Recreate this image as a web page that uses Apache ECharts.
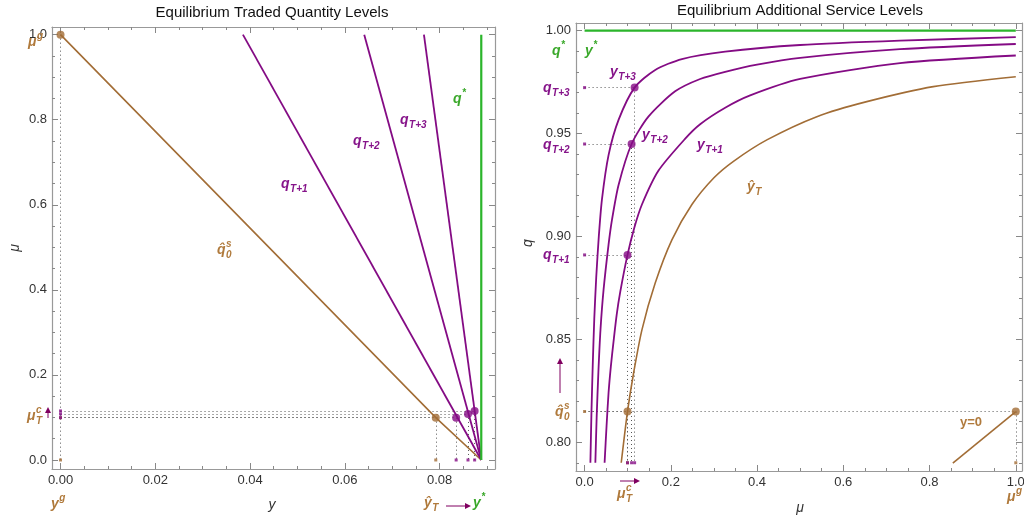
<!DOCTYPE html>
<html>
<head>
<meta charset="utf-8">
<script src="https://cdn.jsdelivr.net/npm/echarts@6/dist/echarts.min.js"></script>
<style>
  html, body { margin: 0; padding: 0; background: #fff; }
  #chart { width: 1024px; height: 520px; }
</style>
</head>
<body>
<div id="chart"></div>
<script>
// ---------- left panel: y (x axis) vs mu (y axis) ----------
var yStar = 0.0888;
var muG = 1.0;
var qHat0Line = [[0, 1.0], [0.0792, 0.0995], [0.0888, 0]];
var qT1Line = [[0.0385, 1.0], [0.0888, 0]];
var qT2Line = [[0.0641, 1.0], [0.0888, 0]];
var qT3Line = [[0.0767, 1.0], [0.0888, 0]];
var qStarLine = [[0.0888, 0], [0.0888, 1.0]];
// equilibrium points: q̂0, qT+1, qT+2, qT+3
var leftPts = [[0.0792, 0.0995], [0.0835, 0.0995], [0.0860, 0.1082], [0.0874, 0.1153]];

var leftXTicks = [0, 0.02, 0.04, 0.06, 0.08];
var leftYTicks = [0, 0.2, 0.4, 0.6, 0.8, 1.0];

// ---------- right panel: mu (x axis) vs q (y axis) ----------
var yT3 = [[0.0135, 0.790], [0.016, 0.815], [0.019, 0.838], [0.0225, 0.860], [0.027, 0.880], [0.033, 0.900],
  [0.0403, 0.918], [0.0556, 0.9395], [0.0788, 0.9566], [0.116, 0.9723], [0.1638, 0.9809], [0.2257, 0.9862],
  [0.326, 0.9898], [0.5, 0.9930], [0.7316, 0.9951], [1.0, 0.9968]];
var yT2 = [[0.025, 0.790], [0.028, 0.812], [0.032, 0.834], [0.037, 0.855], [0.044, 0.874], [0.0556, 0.896],
  [0.0635, 0.908], [0.0788, 0.925], [0.109, 0.9449], [0.148, 0.9582], [0.21, 0.9705], [0.268, 0.9765],
  [0.326, 0.9800], [0.40, 0.9835], [0.5, 0.9868], [0.7316, 0.9910], [1.0, 0.9935]];
var yT1 = [[0.0464, 0.790], [0.051, 0.808], [0.0556, 0.824], [0.061, 0.837], [0.0672, 0.849], [0.0745, 0.862],
  [0.0827, 0.873], [0.0995, 0.891], [0.115, 0.904], [0.133, 0.9155], [0.1715, 0.932], [0.2334, 0.9475],
  [0.268, 0.9545], [0.326, 0.9625], [0.384, 0.9685], [0.5, 0.9765], [0.7316, 0.9842], [1.0, 0.9879]];
var yHatT = [[0.085, 0.790], [0.0995, 0.8149], [0.1136, 0.8335], [0.133, 0.8546], [0.1638, 0.8773],
  [0.2025, 0.8983], [0.2489, 0.9155], [0.30, 0.9285], [0.3453, 0.9365], [0.4227, 0.9469], [0.5386, 0.9582],
  [0.6545, 0.9655], [0.8088, 0.9728], [1.0, 0.9776]];
var yZero = [[0.854, 0.7898], [1.0, 0.8149]];
var qStarRight = [[0, 1.0], [1.0, 1.0]];
// equilibrium points: ŷT, yT+1, yT+2, yT+3
var rightPts = [[0.0995, 0.8149], [0.0995, 0.891], [0.109, 0.9449], [0.116, 0.9723]];
var qHat0S = 0.8149;
var qBottom = 0.79;

var rightXTicks = [0, 0.2, 0.4, 0.6, 0.8, 1.0];
var rightYTicks = [0.80, 0.85, 0.90, 0.95, 1.00];

// ---------- styles ----------
var brown = '#a26d36', purple = '#840b84', green = '#2bb52b', guide = '#555';
var brownText = '#b07a3c', purpleText = '#86148a', greenText = '#3aa82a';
var arrowCol = '#800060';
var ptColors = [brown, purple, purple, purple];
var frameCol = '#999', tickCol = '#888';
var FONT = '"Liberation Sans", Arial, sans-serif';
var BIG = 'italic bold 14px ' + FONT, SMALL = 'italic bold 10px ' + FONT;

function steps(from, to, step) {
  var out = [];
  for (var i = 0; from + i * step <= to + 1e-9; i++) out.push(+(from + i * step).toFixed(4));
  return out;
}

// four axes per side: major+labels, minor, mirrored major, mirrored minor
function frameAxes(grid, kind, min, max, majors, minors, fmt) {
  var a = kind === 'x' ? 'bottom' : 'left', b = kind === 'x' ? 'top' : 'right';
  function ax(pos, vals, len, labels, line) {
    return {
      type: 'value', gridIndex: grid, position: pos, min: min, max: max,
      splitLine: { show: false },
      axisLine: { show: line, onZero: false, lineStyle: { color: frameCol, width: 1.2 } },
      axisTick: { show: true, inside: true, length: len, customValues: vals, lineStyle: { color: tickCol, width: 1 } },
      axisLabel: labels ? {
        show: true, customValues: vals, formatter: fmt, margin: 5, color: '#333', fontSize: 13, fontFamily: FONT
      } : { show: false }
    };
  }
  return [ax(a, majors, 6, true, true), ax(a, minors, 3, false, false),
          ax(b, majors, 6, false, true), ax(b, minors, 3, false, false)];
}

var xAxes = frameAxes(0, 'x', -0.0018, 0.0917, leftXTicks, steps(0, 0.09, 0.005), function (v) { return v.toFixed(2); })
  .concat(frameAxes(1, 'x', -0.0199, 1.0144, rightXTicks, steps(0, 1, 0.05), function (v) { return v.toFixed(1); }));
var yAxes = frameAxes(0, 'y', -0.0212, 1.018, leftYTicks, steps(0, 1, 0.05), function (v) { return v.toFixed(1); })
  .concat(frameAxes(1, 'y', 0.786, 1.0037, rightYTicks, steps(0.79, 1.0, 0.01), function (v) { return v.toFixed(2); }));

function curve(grid, data, color, width, smooth) {
  return {
    type: 'line', xAxisIndex: grid * 4, yAxisIndex: grid * 4, data: data, symbol: 'none',
    smooth: smooth || false, silent: true, z: 3,
    lineStyle: { color: color, width: width }
  };
}
function dots(grid, pts, colors, size, symbol, guides) {
  var s = {
    type: 'scatter', xAxisIndex: grid * 4, yAxisIndex: grid * 4, silent: true, z: 5,
    symbol: symbol, symbolSize: size,
    data: pts.map(function (p, i) { return { value: p, itemStyle: { color: colors[i] } }; })
  };
  if (guides) {
    s.markLine = {
      silent: true, symbol: ['none', 'none'], label: { show: false }, z: 1,
      lineStyle: { type: [1, 3], color: guide, width: 1 },
      data: guides.map(function (g) { return [{ coord: g[0] }, { coord: g[1] }]; })
    };
  }
  return s;
}

// guides and marker dots built from the point arrays
var leftGuides = [[[0, muG], [0, 0]]];
var leftSmall = [[0, 0]], leftSmallCol = [brown];
leftPts.forEach(function (p, i) {
  leftGuides.push([[0, p[1]], p], [p, [p[0], 0]]);
  leftSmall.push([0, p[1]], [p[0], 0]);
  leftSmallCol.push(ptColors[i], ptColors[i]);
});
var rightGuides = [[[0, qHat0S], [1.0, qHat0S]], [[1.0, qHat0S], [1.0, qBottom]]];
var rightSmall = [[1.0, qBottom]], rightSmallCol = [brown];
rightPts.forEach(function (p, i) {
  rightGuides.push([[0, p[1]], p], [p, [p[0], qBottom]]);
  rightSmall.push([0, p[1]], [p[0], qBottom]);
  rightSmallCol.push(ptColors[i], ptColors[i]);
});

var series = [
  curve(0, qHat0Line, brown, 1.6),
  curve(0, qT1Line, purple, 1.8),
  curve(0, qT2Line, purple, 1.8),
  curve(0, qT3Line, purple, 1.8),
  curve(0, qStarLine, green, 2.2),
  dots(0, leftSmall, leftSmallCol, 3, 'rect', leftGuides),
  dots(0, [[0, muG]].concat(leftPts), [brown].concat(ptColors), 8, 'circle'),
  curve(1, qStarRight, green, 2.2),
  curve(1, yT3, purple, 1.8, 0.25),
  curve(1, yT2, purple, 1.8, 0.25),
  curve(1, yT1, purple, 1.8, 0.25),
  curve(1, yHatT, brown, 1.6, 0.25),
  curve(1, yZero, brown, 1.6),
  dots(1, rightSmall, rightSmallCol, 3, 'rect', rightGuides),
  dots(1, rightPts.concat([[1.0, qHat0S]]), ptColors.concat([brown]), 8, 'circle')
];

// ---------- text ----------
var mctx = document.createElement('canvas').getContext('2d');
function textW(t, font) { mctx.font = font; return mctx.measureText(t).width; }
function txt(x, y, text, font, color, align, rot) {
  return {
    type: 'text', x: x, y: y, rotation: rot || 0, silent: true, z: 100,
    style: { text: text, x: 0, y: 0, font: font, fill: color, align: align || 'left', textAlign: align || 'left',
             verticalAlign: 'middle', textVerticalAlign: 'middle' }
  };
}
function math(x, y, base, sub, sup, color) {
  var w = textW(base, BIG);
  var out = [txt(x, y, base, BIG, color)];
  if (sup) out.push(txt(x + w + 0.5, y - 6, sup, SMALL, color));
  if (sub) out.push(txt(x + w + 0.5, y + 5, sub, SMALL, color));
  return out;
}
function arrow(x1, y1, x2, y2, color) {
  var dx = x2 - x1, dy = y2 - y1, L = Math.sqrt(dx * dx + dy * dy), ux = dx / L, uy = dy / L;
  var bx = x2 - ux * 6, by = y2 - uy * 6;
  return [
    { type: 'line', silent: true, z: 100, shape: { x1: x1, y1: y1, x2: bx, y2: by }, style: { stroke: color, lineWidth: 1 } },
    { type: 'polygon', silent: true, z: 100,
      shape: { points: [[x2, y2], [bx - uy * 3, by + ux * 3], [bx + uy * 3, by - ux * 3]] }, style: { fill: color } }
  ];
}

var titleFont = '15px ' + FONT, nameFont = 'italic 14px ' + FONT;
var graphics = [].concat(
  txt(272, 13, 'Equilibrium Traded Quantity Levels', titleFont, '#111', 'center'),
  txt(800, 11, 'Equilibrium Additional Service Levels', titleFont, '#111', 'center'),
  // left panel
  math(28, 42, 'μ', null, 'g', brownText),
  math(27, 416, 'μ', 'T', 'c', brownText),
  arrow(48, 418, 48, 407, arrowCol),
  math(217, 250, 'q\u0302', '0', 's', brownText),
  math(281, 184, 'q', 'T+1', null, purpleText),
  math(353, 141, 'q', 'T+2', null, purpleText),
  math(400, 120, 'q', 'T+3', null, purpleText),
  math(453, 99, 'q', null, '*', greenText),
  math(51, 504, 'y', null, 'g', brownText),
  txt(272, 505, 'y', nameFont, '#333', 'center'),
  math(424, 503, 'ŷ', 'T', null, brownText),
  arrow(446, 506, 471, 506, arrowCol),
  math(473, 503, 'y', null, '*', greenText),
  txt(15, 248, 'μ', nameFont, '#333', 'center', Math.PI / 2),
  // right panel
  math(552, 51, 'q', null, '*', greenText),
  math(585, 51, 'y', null, '*', greenText),
  math(543, 88, 'q', 'T+3', null, purpleText),
  math(543, 145, 'q', 'T+2', null, purpleText),
  math(543, 255, 'q', 'T+1', null, purpleText),
  math(610, 72, 'y', 'T+3', null, purpleText),
  math(642, 135, 'y', 'T+2', null, purpleText),
  math(697, 145, 'y', 'T+1', null, purpleText),
  math(747, 187, 'ŷ', 'T', null, brownText),
  arrow(560, 393, 560, 358, arrowCol),
  math(555, 412, 'q\u0302', '0', 's', brownText),
  txt(960, 422, 'y=0', 'bold 13px ' + FONT, brownText),
  math(617, 494, 'μ', 'T', 'c', brownText),
  arrow(620, 481, 640, 481, arrowCol),
  math(1007, 497, 'μ', null, 'g', brownText),
  txt(800, 508, 'μ', nameFont, '#333', 'center'),
  txt(528, 243, 'q', nameFont, '#333', 'center', Math.PI / 2)
);

var chart = echarts.init(document.getElementById('chart'), null, { renderer: 'canvas' });
chart.setOption({
  animation: false,
  backgroundColor: '#fff',
  grid: [
    { left: 52, right: 529, top: 27, bottom: 51, containLabel: false, outerBoundsMode: 'none' },
    { left: 576, right: 2, top: 23, bottom: 49, containLabel: false, outerBoundsMode: 'none' }
  ],
  xAxis: xAxes,
  yAxis: yAxes,
  series: series,
  graphic: { elements: graphics }
});
</script>
</body>
</html>
